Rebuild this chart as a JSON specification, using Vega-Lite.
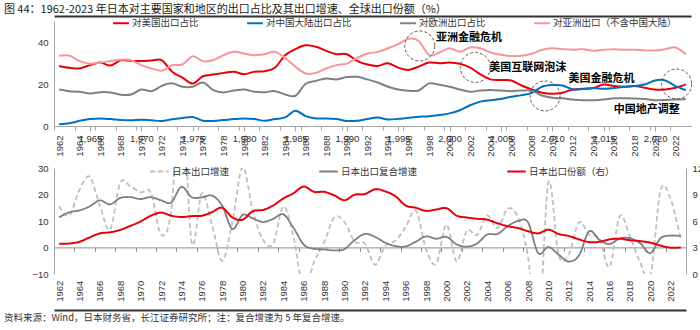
{
  "$schema": "https://vega.github.io/schema/vega-lite/v6.json",
  "padding": {"left": 3, "right": 3, "top": 4, "bottom": 1},
  "title": {
    "text": "图 44：1962-2023 年日本对主要国家和地区的出口占比及其出口增速、全球出口份额（%）",
    "anchor": "start", "frame": "bounds", "font": "Noto Sans CJK SC", "fontSize": 11, "fontWeight": "normal", "color": "#1a1a1a", "offset": 1, "dy": 2
  },
  "config": {
    "view": {"stroke": null},
    "axis": {"grid": false, "labelFont": "Liberation Sans", "labelFontSize": 9.5, "labelColor": "#333333", "domainColor": "#a6a6a6", "tickColor": "#a6a6a6", "title": null, "labelOverlap": false},
    "legend": {"labelFont": "Noto Sans CJK SC", "labelFontSize": 9.5, "labelColor": "#333333", "padding": 0, "labelOffset": 2, "rowPadding": 0, "symbolStrokeWidth": 2, "title": null}
  },
  "resolve": {"scale": {"color": "independent", "strokeDash": "independent"}, "legend": {"color": "independent", "strokeDash": "independent"}},
  "datasets": {
    "top": [
      {"year": 1962, "us": 28.6, "china": 0.8, "europe": 17.4, "asia": 33.5},
      {"year": 1963, "us": 27.7, "china": 1.3, "europe": 16.6, "asia": 33.5},
      {"year": 1964, "us": 27.4, "china": 2.5, "europe": 16.3, "asia": 30.9},
      {"year": 1965, "us": 29.0, "china": 3.3, "europe": 15.5, "asia": 29.7},
      {"year": 1966, "us": 30.2, "china": 3.6, "europe": 16.1, "asia": 30.2},
      {"year": 1967, "us": 28.8, "china": 3.3, "europe": 16.0, "asia": 30.9},
      {"year": 1968, "us": 31.3, "china": 2.8, "europe": 14.9, "asia": 31.6},
      {"year": 1969, "us": 31.0, "china": 2.7, "europe": 15.0, "asia": 31.3},
      {"year": 1970, "us": 30.9, "china": 3.0, "europe": 17.4, "asia": 29.0},
      {"year": 1971, "us": 31.2, "china": 2.7, "europe": 16.6, "asia": 27.4},
      {"year": 1972, "us": 31.3, "china": 2.4, "europe": 19.1, "asia": 26.3},
      {"year": 1973, "us": 25.8, "china": 3.2, "europe": 20.3, "asia": 29.0},
      {"year": 1974, "us": 23.0, "china": 3.8, "europe": 18.7, "asia": 29.3},
      {"year": 1975, "us": 20.2, "china": 4.3, "europe": 18.7, "asia": 33.2},
      {"year": 1976, "us": 23.7, "china": 2.5, "europe": 20.7, "asia": 30.9},
      {"year": 1977, "us": 24.5, "china": 2.4, "europe": 17.1, "asia": 31.3},
      {"year": 1978, "us": 25.3, "china": 2.8, "europe": 16.0, "asia": 33.7},
      {"year": 1979, "us": 25.8, "china": 3.3, "europe": 16.9, "asia": 35.3},
      {"year": 1980, "us": 24.7, "china": 3.6, "europe": 17.4, "asia": 34.5},
      {"year": 1981, "us": 25.8, "china": 3.3, "europe": 16.3, "asia": 33.7},
      {"year": 1982, "us": 26.1, "china": 2.5, "europe": 16.1, "asia": 34.2},
      {"year": 1983, "us": 27.7, "china": 3.3, "europe": 16.6, "asia": 35.3},
      {"year": 1984, "us": 33.7, "china": 4.1, "europe": 15.0, "asia": 32.4},
      {"year": 1985, "us": 36.6, "china": 7.3, "europe": 14.4, "asia": 28.2},
      {"year": 1986, "us": 38.4, "china": 4.7, "europe": 20.1, "asia": 25.0},
      {"year": 1987, "us": 37.7, "china": 3.6, "europe": 21.5, "asia": 25.3},
      {"year": 1988, "us": 35.8, "china": 3.6, "europe": 22.6, "asia": 27.4},
      {"year": 1989, "us": 34.2, "china": 3.3, "europe": 22.2, "asia": 29.0},
      {"year": 1990, "us": 34.2, "china": 2.4, "europe": 23.3, "asia": 29.7},
      {"year": 1991, "us": 31.0, "china": 2.5, "europe": 23.4, "asia": 32.4},
      {"year": 1992, "us": 29.3, "china": 3.3, "europe": 22.2, "asia": 34.5},
      {"year": 1993, "us": 28.6, "china": 4.0, "europe": 20.7, "asia": 35.3},
      {"year": 1994, "us": 29.9, "china": 3.1, "europe": 18.7, "asia": 37.0},
      {"year": 1995, "us": 27.8, "china": 3.4, "europe": 17.4, "asia": 39.0},
      {"year": 1996, "us": 26.7, "china": 3.9, "europe": 16.8, "asia": 41.5},
      {"year": 1997, "us": 28.3, "china": 4.4, "europe": 16.9, "asia": 40.5},
      {"year": 1998, "us": 30.2, "china": 4.6, "europe": 20.3, "asia": 33.8},
      {"year": 1999, "us": 29.9, "china": 5.2, "europe": 19.6, "asia": 35.0},
      {"year": 2000, "us": 30.2, "china": 6.0, "europe": 18.7, "asia": 37.0},
      {"year": 2001, "us": 29.6, "china": 7.5, "europe": 17.4, "asia": 35.4},
      {"year": 2002, "us": 27.8, "china": 9.9, "europe": 16.3, "asia": 37.4},
      {"year": 2003, "us": 24.6, "china": 11.6, "europe": 16.9, "asia": 37.0},
      {"year": 2004, "us": 22.2, "china": 12.3, "europe": 17.1, "asia": 35.0},
      {"year": 2005, "us": 21.9, "china": 12.9, "europe": 16.9, "asia": 33.9},
      {"year": 2006, "us": 21.7, "china": 13.9, "europe": 16.6, "asia": 33.3},
      {"year": 2007, "us": 19.3, "china": 14.7, "europe": 16.9, "asia": 33.4},
      {"year": 2008, "us": 17.4, "china": 15.8, "europe": 16.8, "asia": 34.4},
      {"year": 2009, "us": 15.8, "china": 18.7, "europe": 14.5, "asia": 36.3},
      {"year": 2010, "us": 15.3, "china": 19.5, "europe": 13.4, "asia": 37.0},
      {"year": 2011, "us": 15.8, "china": 19.3, "europe": 13.2, "asia": 36.6},
      {"year": 2012, "us": 17.4, "china": 17.4, "europe": 12.6, "asia": 36.3},
      {"year": 2013, "us": 17.7, "china": 17.6, "europe": 12.3, "asia": 36.6},
      {"year": 2014, "us": 18.1, "china": 18.1, "europe": 12.3, "asia": 35.8},
      {"year": 2015, "us": 19.8, "china": 17.7, "europe": 12.6, "asia": 36.3},
      {"year": 2016, "us": 19.0, "china": 18.1, "europe": 13.2, "asia": 36.6},
      {"year": 2017, "us": 18.7, "china": 18.7, "europe": 13.2, "asia": 36.3},
      {"year": 2018, "us": 19.0, "china": 19.0, "europe": 13.1, "asia": 36.3},
      {"year": 2019, "us": 18.2, "china": 19.8, "europe": 12.8, "asia": 36.0},
      {"year": 2020, "us": 17.4, "china": 21.7, "europe": 12.3, "asia": 36.0},
      {"year": 2021, "us": 17.4, "china": 21.7, "europe": 12.4, "asia": 36.6},
      {"year": 2022, "us": 18.2, "china": 19.0, "europe": 12.6, "asia": 37.4},
      {"year": 2023, "us": 19.8, "china": 17.1, "europe": 12.9, "asia": 34.2}
    ],
    "bottom": [
      {"year": 1962, "growth": 15.6, "cagr": 11.4, "share": 3.42},
      {"year": 1963, "growth": 12.0, "cagr": 13.3, "share": 3.45},
      {"year": 1964, "growth": 21.8, "cagr": 14.0, "share": 3.65},
      {"year": 1965, "growth": 26.7, "cagr": 15.5, "share": 4.15},
      {"year": 1966, "growth": 15.8, "cagr": 17.8, "share": 4.6},
      {"year": 1967, "growth": 6.7, "cagr": 16.3, "share": 4.72},
      {"year": 1968, "growth": 24.4, "cagr": 18.7, "share": 5.0},
      {"year": 1969, "growth": 23.1, "cagr": 19.0, "share": 5.45},
      {"year": 1970, "growth": 20.8, "cagr": 18.3, "share": 5.95},
      {"year": 1971, "growth": 20.7, "cagr": 19.0, "share": 6.6},
      {"year": 1972, "growth": 4.9, "cagr": 17.8, "share": 6.95},
      {"year": 1973, "growth": 13.9, "cagr": 17.0, "share": 6.6},
      {"year": 1974, "growth": 61.6, "cagr": 22.9, "share": 6.45},
      {"year": 1975, "growth": 2.1, "cagr": 19.0, "share": 6.55},
      {"year": 1976, "growth": 20.5, "cagr": 18.9, "share": 6.6},
      {"year": 1977, "growth": 8.6, "cagr": 19.6, "share": 7.0},
      {"year": 1978, "growth": -5.0, "cagr": 15.8, "share": 7.5},
      {"year": 1979, "growth": 9.6, "cagr": 7.0, "share": 6.4},
      {"year": 1980, "growth": 30.4, "cagr": 12.3, "share": 6.15},
      {"year": 1981, "growth": 13.9, "cagr": 11.0, "share": 7.1},
      {"year": 1982, "growth": 2.9, "cagr": 9.6, "share": 7.25},
      {"year": 1983, "growth": 1.4, "cagr": 10.8, "share": 7.75},
      {"year": 1984, "growth": 15.5, "cagr": 12.5, "share": 8.55},
      {"year": 1985, "growth": 4.0, "cagr": 7.4, "share": 9.15},
      {"year": 1986, "growth": -15.9, "cagr": 1.1, "share": 9.9},
      {"year": 1987, "growth": -5.6, "cagr": -0.5, "share": 9.3},
      {"year": 1988, "growth": 1.9, "cagr": -0.7, "share": 9.3},
      {"year": 1989, "growth": 11.4, "cagr": -1.1, "share": 8.9},
      {"year": 1990, "growth": 9.6, "cagr": -0.6, "share": 8.35},
      {"year": 1991, "growth": 2.2, "cagr": 2.8, "share": 8.98},
      {"year": 1992, "growth": 1.5, "cagr": 5.1, "share": 9.05},
      {"year": 1993, "growth": -6.5, "cagr": 4.0, "share": 9.6},
      {"year": 1994, "growth": 0.7, "cagr": 1.8, "share": 9.35},
      {"year": 1995, "growth": 2.6, "cagr": 0.5, "share": 8.8},
      {"year": 1996, "growth": 7.7, "cagr": 0.4, "share": 7.75},
      {"year": 1997, "growth": 13.9, "cagr": 2.2, "share": 7.5},
      {"year": 1998, "growth": -0.6, "cagr": 4.2, "share": 7.15},
      {"year": 1999, "growth": -6.1, "cagr": 3.3, "share": 7.3},
      {"year": 2000, "growth": 8.6, "cagr": 4.0, "share": 7.45},
      {"year": 2001, "growth": -5.2, "cagr": 1.2, "share": 6.6},
      {"year": 2002, "growth": 6.4, "cagr": 0.3, "share": 6.4},
      {"year": 2003, "growth": 4.7, "cagr": 1.5, "share": 6.25},
      {"year": 2004, "growth": 12.1, "cagr": 4.9, "share": 6.15},
      {"year": 2005, "growth": 7.3, "cagr": 5.1, "share": 5.75},
      {"year": 2006, "growth": 14.6, "cagr": 8.0, "share": 5.42},
      {"year": 2007, "growth": 11.5, "cagr": 10.0, "share": 5.2},
      {"year": 2008, "growth": -3.5, "cagr": 9.5, "share": 4.85},
      {"year": 2009, "growth": -33.1, "cagr": -2.1, "share": 4.6},
      {"year": 2010, "growth": 24.4, "cagr": 0.2, "share": 5.02},
      {"year": 2011, "growth": -2.7, "cagr": -2.7, "share": 4.53},
      {"year": 2012, "growth": -2.7, "cagr": -5.3, "share": 4.3},
      {"year": 2013, "growth": 9.5, "cagr": -3.0, "share": 3.92},
      {"year": 2014, "growth": 4.8, "cagr": 6.1, "share": 3.6},
      {"year": 2015, "growth": 3.4, "cagr": 2.9, "share": 3.65},
      {"year": 2016, "growth": -7.4, "cagr": 1.3, "share": 3.92},
      {"year": 2017, "growth": 11.8, "cagr": 3.4, "share": 4.0},
      {"year": 2018, "growth": 4.1, "cagr": 3.5, "share": 3.82},
      {"year": 2019, "growth": -5.6, "cagr": 1.6, "share": 3.72},
      {"year": 2020, "growth": -11.1, "cagr": -2.1, "share": 3.55},
      {"year": 2021, "growth": 21.5, "cagr": 3.5, "share": 3.22},
      {"year": 2022, "growth": 18.2, "cagr": 4.5, "share": 2.98},
      {"year": 2023, "growth": 2.8, "cagr": 4.3, "share": 3.0}
    ],
    "circles": [
      {"year": 1997.1, "value": 38.1},
      {"year": 2002.5, "value": 27.9},
      {"year": 2009.3, "value": 14.3},
      {"year": 2022.1, "value": 20.0}
    ],
    "notes": [
      {"label": "亚洲金融危机", "year": 2001.9, "value": 42.0},
      {"label": "美国互联网泡沫", "year": 2007.6, "value": 27.8},
      {"label": "美国金融危机", "year": 2014.8, "value": 22.2},
      {"label": "中国地产调整", "year": 2019.2, "value": 7.4}
    ]
  },
  "spacing": 4,
  "vconcat": [
    {
      "width": 637,
      "height": 105,
      "layer": [
        {
          "data": {"name": "top"},
          "transform": [{"fold": ["us", "china", "europe", "asia"], "as": ["series", "value"]}],
          "mark": {"type": "line", "interpolate": "cardinal", "tension": 0, "strokeWidth": 2},
          "encoding": {
            "x": {
              "field": "year", "type": "quantitative",
              "scale": {"domain": [1961.5, 2023.5], "nice": false, "zero": false},
              "axis": {
                "orient": "bottom",
                "values": [1962,1964,1966,1968,1970,1972,1974,1976,1978,1980,1982,1984,1986,1988,1990,1992,1994,1996,1998,2000,2002,2004,2006,2008,2010,2012,2014,2016,2018,2020,2022],
                "tickCount": 100,
                "format": "d", "labelAngle": -90, "tickSize": 4, "labelPadding": 5, "labelOverlap": false, "labelBound": false,
                "tickOffset": -5.14, "labelOffset": 5.14, "domainColor": "#a6a6a6"
              }
            },
            "y": {
              "field": "value", "type": "quantitative",
              "scale": {"domain": [0, 50], "nice": false},
              "axis": {"values": [0, 10, 20, 30, 40, 50], "ticks": false, "labelPadding": 6}
            },
            "color": {
              "field": "series", "type": "nominal",
              "scale": {"domain": ["us", "china", "europe", "asia"], "range": ["#E8000B", "#0070C0", "#808080", "#F8959B"]},
              "legend": {
                "orient": "none", "legendX": 58, "legendY": -7, "direction": "horizontal", "columns": 4,
                "columnPadding": 44, "symbolSize": 250,
                "labelExpr": "datum.label == 'us' ? '对美国出口占比' : datum.label == 'china' ? '对中国大陆出口占比' : datum.label == 'europe' ? '对欧洲出口占比' : '对亚洲出口（不含中国大陆）'"
              }
            }
          }
        },
        {
          "data": {"name": "circles"},
          "mark": {"type": "point", "shape": "circle", "filled": false, "size": 900, "color": "#595959", "strokeDash": [3, 2], "strokeWidth": 1, "opacity": 1},
          "encoding": {
            "x": {
              "field": "year", "type": "quantitative",
              "axis": {"orient": "top", "offset": 5, "labels": false, "ticks": false, "domainColor": "#333333", "domainWidth": 2}
            },
            "y": {"field": "value", "type": "quantitative"}
          }
        },
        {
          "data": {"name": "notes"},
          "mark": {"type": "text", "font": "Noto Sans CJK SC", "fontWeight": "bold", "fontSize": 11, "color": "#000000"},
          "encoding": {"x": {"field": "year", "type": "quantitative"}, "y": {"field": "value", "type": "quantitative"}, "text": {"field": "label"}}
        }
      ],
      "resolve": {"axis": {"x": "independent"}}
    },
    {
      "width": 632,
      "height": 106,
      "title": {
        "text": "资料来源：Wind，日本财务省，长江证券研究所；注：复合增速为 5 年复合增速。",
        "orient": "bottom", "anchor": "start", "frame": "bounds", "font": "Noto Sans CJK SC", "fontSize": 9.5, "fontWeight": "normal", "color": "#333333", "offset": 3, "dx": -28
      },
      "layer": [
        {
          "data": {"name": "bottom"},
          "transform": [{"fold": ["growth", "cagr"], "as": ["series", "value"]}],
          "mark": {"type": "line", "interpolate": "cardinal", "tension": 0, "strokeWidth": 1.8, "clip": true},
          "encoding": {
            "x": {
              "field": "year", "type": "quantitative",
              "scale": {"domain": [1961.5, 2023.5], "nice": false, "zero": false},
              "axis": {
                "orient": "bottom",
                "values": [1962,1964,1966,1968,1970,1972,1974,1976,1978,1980,1982,1984,1986,1988,1990,1992,1994,1996,1998,2000,2002,2004,2006,2008,2010,2012,2014,2016,2018,2020,2022],
                "tickCount": 100,
                "format": "d", "labelAngle": -90, "tickSize": 4, "labelPadding": 28.7, "offset": -26.6, "labelOverlap": false, "labelBound": false,
                "tickOffset": -5.1, "labelOffset": 5.1, "domainColor": "#8c8c8c", "tickColor": "#8c8c8c"
              }
            },
            "y": {
              "field": "value", "type": "quantitative",
              "scale": {"domain": [-10, 30], "nice": false},
              "axis": {"orient": "left", "values": [-10, 0, 10, 20, 30], "ticks": false, "labelPadding": 6}
            },
            "color": {
              "field": "series", "type": "nominal",
              "scale": {"domain": ["growth", "cagr", "share"], "range": ["#BFBFBF", "#7F7F7F", "#E8000B"]},
              "legend": {
                "orient": "none", "legendX": 95, "legendY": -7, "direction": "horizontal", "columns": 3,
                "columnPadding": 85, "symbolSize": 340,
                "labelExpr": "datum.label == 'growth' ? '日本出口增速' : datum.label == 'cagr' ? '日本出口复合增速' : '日本出口份额（右）'"
              }
            },
            "strokeDash": {
              "field": "series", "type": "nominal",
              "scale": {"domain": ["growth", "cagr", "share"], "range": [[5, 3], [1, 0], [1, 0]]},
              "legend": {
                "orient": "none", "legendX": 95, "legendY": -7, "direction": "horizontal", "columns": 3,
                "columnPadding": 85, "symbolSize": 340,
                "labelExpr": "datum.label == 'growth' ? '日本出口增速' : datum.label == 'cagr' ? '日本出口复合增速' : '日本出口份额（右）'"
              }
            }
          }
        },
        {
          "data": {"name": "bottom"},
          "transform": [{"fold": ["share"], "as": ["series", "value"]}],
          "mark": {"type": "line", "interpolate": "cardinal", "tension": 0, "strokeWidth": 2},
          "encoding": {
            "x": {
              "field": "year", "type": "quantitative",
              "axis": {"orient": "bottom", "offset": 36, "labels": false, "ticks": false, "domainColor": "#333333", "domainWidth": 2}
            },
            "y": {
              "field": "value", "type": "quantitative",
              "scale": {"domain": [0, 12], "nice": false},
              "axis": {"orient": "right", "values": [0, 3, 6, 9, 12], "ticks": false, "labelPadding": 6, "domainColor": "#a6a6a6"}
            },
            "color": {"field": "series", "type": "nominal"},
            "strokeDash": {"field": "series", "type": "nominal"}
          }
        }
      ],
      "resolve": {"scale": {"y": "independent"}, "axis": {"x": "independent"}}
    }
  ]
}
